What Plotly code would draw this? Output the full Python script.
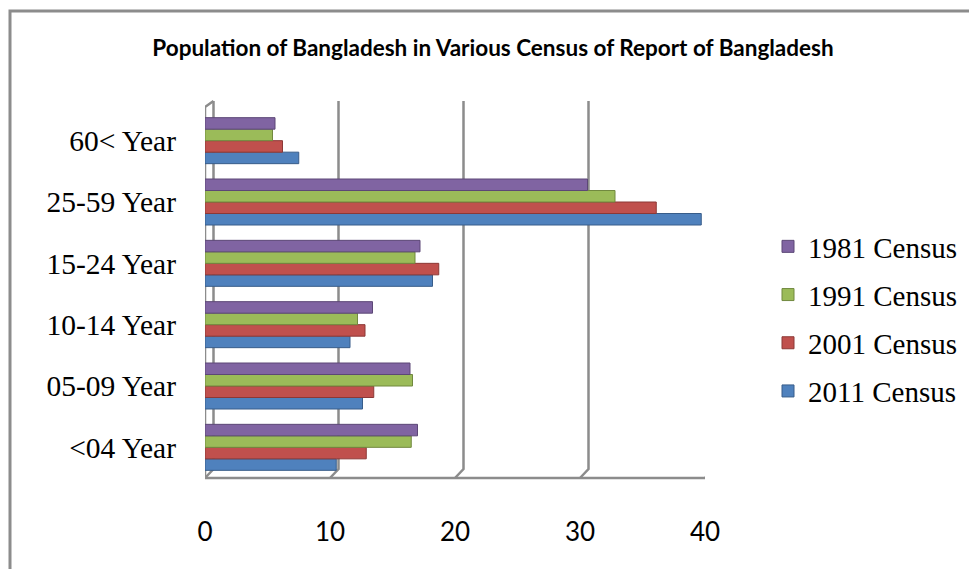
import plotly.graph_objects as go

categories = ["<04 Year", "05-09 Year", "10-14 Year", "15-24 Year", "25-59 Year", "60< Year"]
census_2011 = [10.5, 12.6, 11.6, 18.2, 39.7, 7.5]
census_2001 = [12.9, 13.5, 12.8, 18.7, 36.1, 6.2]
census_1991 = [16.5, 16.6, 12.2, 16.8, 32.8, 5.4]
census_1981 = [17.0, 16.4, 13.4, 17.2, 30.6, 5.6]
x_ticks = [0, 10, 20, 30, 40]

series = [
    ("2011 Census", census_2011, "#4F81BD", "#385D8A", 4),
    ("2001 Census", census_2001, "#C0504D", "#8C3836", 3),
    ("1991 Census", census_1991, "#9BBB59", "#71893F", 2),
    ("1981 Census", census_1981, "#8064A2", "#5C4776", 1),
]

fig = go.Figure()
for name, vals, col, edge, rank in series:
    fig.add_trace(go.Bar(
        y=categories, x=vals, name=name, orientation="h",
        marker=dict(color=col, line=dict(color=edge, width=1)),
        legendgroup=name, legendrank=rank,
    ))

W, H = 969, 569
L, R, T, B = 205, 264, 110, 91

def px(xp):
    return (xp - L) / (W - L - R)

def py(yp):
    return (H - B - yp) / (H - T - B)

GRAY = "#8c8c8c"
# 3D wall/floor frame (depth offset in axis units / paper units)
dx = 8.5 / ((W - L - R) / 40)
dy = 9 / (H - T - B)
shapes = [
    dict(type="rect", xref="paper", yref="paper",
         x0=px(10), x1=px(1100), y0=py(700), y1=py(11),
         line=dict(color=GRAY, width=3), fillcolor="rgba(0,0,0,0)", layer="below"),
    # front floor edge
    dict(type="line", xref="x", yref="paper", x0=x_ticks[0], x1=x_ticks[-1], y0=0, y1=0,
         line=dict(color=GRAY, width=2.5), layer="below"),
    # front left wall edge + top diagonal
    dict(type="path", xref="x", yref="paper",
         path=f"M {x_ticks[0]} 0 L {x_ticks[0]} {py(107)} L {x_ticks[0] + dx} {py(101)}",
         line=dict(color=GRAY, width=2.5), layer="below"),
]
for t in x_ticks:
    shapes.append(dict(
        type="path", xref="x", yref="paper",
        path=f"M {t} 0 L {t + dx} {dy} L {t + dx} {py(101)}",
        line=dict(color=GRAY, width=2.5), layer="below"))

fig.update_layout(
    width=W, height=H,
    margin=dict(l=L, r=R, t=T, b=B),
    paper_bgcolor="white", plot_bgcolor="white",
    barmode="group", bargap=0.25, bargroupgap=0,
    title=dict(
        text="<b>Population of Bangladesh in Various Census of Report of Bangladesh</b>",
        x=493 / W, xanchor="center", xref="container", y=1 - 48 / H, yanchor="middle",
        font=dict(family="Lato, Open Sans, sans-serif", size=22.5, color="black"),
    ),
    xaxis=dict(
        range=[0, 40], tickvals=x_ticks, showgrid=False,
        zeroline=False, showline=False,
        ticks="", ticklabelstandoff=36,
        tickfont=dict(family="Lato, Open Sans, sans-serif", size=26, color="black"),
    ),
    yaxis=dict(
        showgrid=False, zeroline=False, showline=False,
        ticks="", ticklabelstandoff=28,
        tickfont=dict(family="Liberation Serif, Times New Roman, serif", size=29.5, color="black"),
    ),
    legend=dict(
        xref="container", yref="container",
        x=768 / W, xanchor="left", y=1 - 221 / H, yanchor="top",
        traceorder="grouped", tracegroupgap=7.5,
        font=dict(family="Liberation Serif, Times New Roman, serif", size=29, color="black"),
        itemwidth=30, bgcolor="rgba(0,0,0,0)",
    ),
    shapes=shapes,
)

fig.write_html("out.html")
